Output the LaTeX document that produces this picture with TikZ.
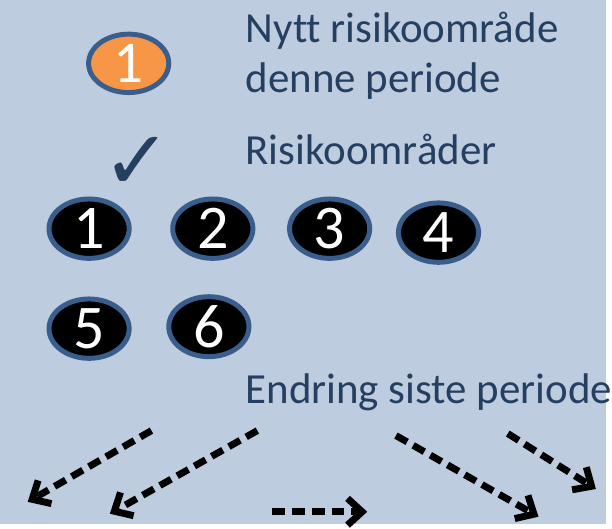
\documentclass[tikz,border=0pt]{standalone}
\usepackage{fontspec}
\setmainfont[Ligatures=NoCommon]{Carlito}
\newfontfamily\symfont{DejaVu Sans}
\usepackage{xcolor}
\usetikzlibrary{arrows.meta,positioning,shapes.geometric}
\definecolor{paleblue}{HTML}{BDCCDE}
\definecolor{inkblue}{HTML}{243F60}
\definecolor{rimblue}{HTML}{3A5E8C}
\definecolor{neworange}{HTML}{F79646}
\tikzset{
  area/.style={ellipse, draw=rimblue, fill=black, line width=5bp, inner sep=0pt,
               minimum width=81bp, minimum height=60bp, text=white,
               font=\fontsize{63}{63}\selectfont},
  newarea/.style={area, fill=neworange, minimum height=59bp,
                  font=\fontsize{60}{60}\selectfont},
  caption/.style={anchor=base west, inner sep=0pt, text=inkblue,
                  font=\fontsize{43.5}{50}\selectfont},
  trend/.style={line width=7bp, dash pattern=on 13bp off 7bp,
                -{Straight Barb[angle=85:20bp, line width=7bp]}},
}

\begin{document}
\begin{tikzpicture}[x=1bp, y=-1bp]
\fill[paleblue] (0,0) rectangle (612,529);

% legend: new area this period
\node[newarea] (new) at (130,64) {1};
\node[caption] (newtxt) at (248,43) {Nytt risikoområde};
\node[caption] (newtxt2) at ([yshift=-50bp]newtxt.base west) {denne periode};

% legend: risk areas
\node[text=inkblue, inner sep=0pt, font=\symfont\fontsize{84}{84}\selectfont] (tick) at (139,165) {✓};
\node[caption] (areatxt) at (248,166) {Risikoområder};
\foreach \n/\x/\y in {1/90/231, 2/215/231, 3/333/231, 4/443/235, 5/90/332, 6/211/330}
  \node[area] (a\n) at (\x,\y) {\n};

% legend: change since last period
\node[caption] (chgtxt) at (248,408) {Endring siste periode};
\coordinate (s1) at (153,435); \coordinate (e1) at (28,507);
\coordinate (s2) at (260,435); \coordinate (e2) at (111,519);
\coordinate (s3) at (275,517); \coordinate (e3) at (371,517);
\coordinate (s4) at (400,440); \coordinate (e4) at (544,522);
\coordinate (s5) at (513,438); \coordinate (e5) at (602,494);
\foreach \k in {1,...,5}
  \draw[trend] (s\k) -- (e\k);
\end{tikzpicture}
\end{document}
